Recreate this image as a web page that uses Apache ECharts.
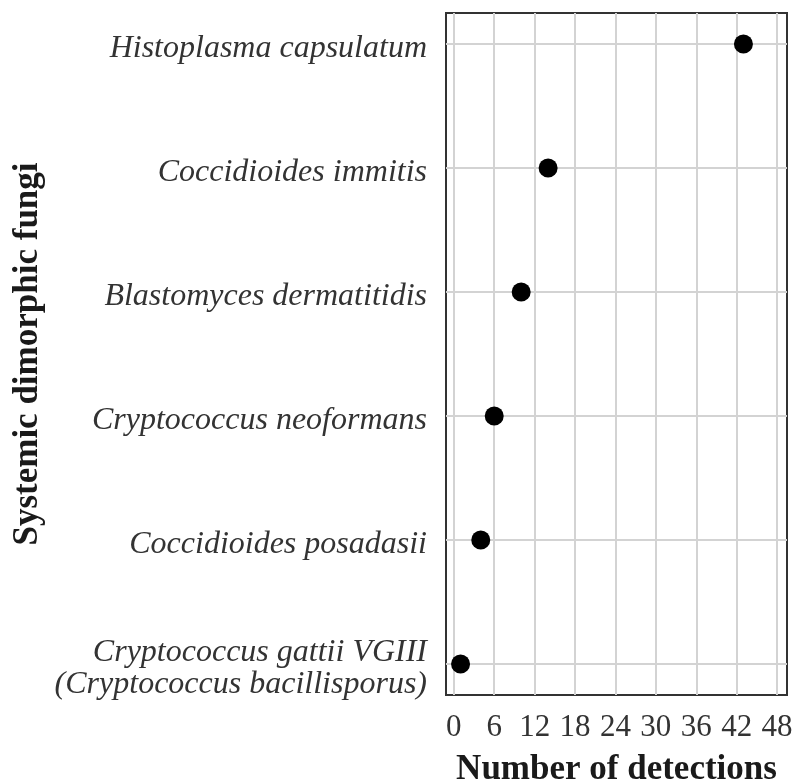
<!DOCTYPE html>
<html>
<head>
<meta charset="utf-8">
<script src="https://cdn.jsdelivr.net/npm/echarts@6/dist/echarts.min.js"></script>
<style>
  html, body { margin: 0; padding: 0; background: #fff; }
  #chart { width: 793px; height: 781px; }
</style>
</head>
<body>
<div id="chart"></div>
<script>
// 菌种（从上到下）
const categories = [
  'Histoplasma capsulatum',
  'Coccidioides immitis',
  'Blastomyces dermatitidis',
  'Cryptococcus neoformans',
  'Coccidioides posadasii',
  'Cryptococcus gattii VGIII\n(Cryptococcus bacillisporus)'
];
// 检出次数
const detections = [43, 14, 10, 6, 4, 1];
// x 轴刻度
const xTicks = [0, 6, 12, 18, 24, 30, 36, 42, 48];
const yTicks = [1, 2, 3, 4, 5, 6];

const chart = echarts.init(document.getElementById('chart'));
const serif = 'Liberation Serif';

// 标签整体下移几个像素：前面加一行很矮的空行
function yLabel (v) {
  const name = categories[v - 1];
  if (!name) return '';
  return '{s| }\n' + name.split('\n').map(l => '{n|' + l + '}').join('\n');
}

const option = {
  animation: false,
  grid: {
    left: 446, right: 6, top: 13, bottom: 86,
    outerBoundsMode: 'none',
    containLabel: false,
    show: true, borderColor: '#333', borderWidth: 2, backgroundColor: 'transparent'
  },
  xAxis: {
    type: 'value',
    min: -1.16,
    max: 49.47,
    name: 'Number of detections',
    nameLocation: 'middle',
    nameGap: 57,
    nameTextStyle: { fontFamily: serif, fontWeight: 'bold', fontSize: 35, color: '#1a1a1a' },
    axisLine: { show: false },
    axisTick: { show: false, customValues: xTicks },
    axisLabel: {
      customValues: xTicks,
      fontFamily: serif, fontSize: 31, color: '#333', margin: 17
    },
    splitLine: { show: true, lineStyle: { color: '#d3d3d3', width: 2 } }
  },
  yAxis: {
    type: 'value',
    inverse: true,
    min: 0.75,
    max: 6.25,
    name: 'Systemic dimorphic fungi',
    nameLocation: 'middle',
    nameGap: 401,
    nameTextStyle: { fontFamily: serif, fontWeight: 'bold', fontSize: 35, color: '#1a1a1a' },
    axisLine: { show: false },
    axisTick: { show: false, customValues: yTicks },
    axisLabel: {
      customValues: yTicks,
      formatter: yLabel,
      align: 'right',
      margin: 19,
      rich: {
        s: { fontSize: 8, lineHeight: 9, align: 'right' },
        n: { fontFamily: serif, fontStyle: 'italic', fontSize: 32, lineHeight: 32, color: '#333', align: 'right' }
      }
    },
    splitLine: { show: true, lineStyle: { color: '#d3d3d3', width: 2 } }
  },
  series: [{
    type: 'scatter',
    symbol: 'circle',
    symbolSize: 19,
    itemStyle: { color: '#000', opacity: 1 },
    data: detections.map((d, i) => [d, i + 1])
  }]
};

chart.setOption(option);
</script>
</body>
</html>
